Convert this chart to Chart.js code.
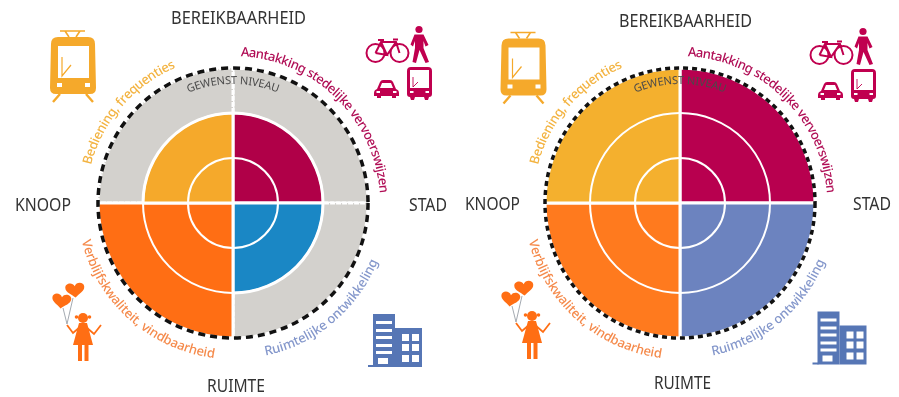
<!DOCTYPE html>
<html>
<head>
<meta charset="utf-8">
<title>Bereikbaarheid</title>
<script src="https://cdn.jsdelivr.net/npm/chart.js@4"></script>
<style>
	html, body { margin: 0; padding: 0; background: #fff; }
	canvas { position: absolute; top: 0; }
	#chartBefore { left: 0; }
	#chartAfter { left: 450px; }
</style>
</head>
<body>
<canvas id="chartBefore" width="450" height="397"></canvas>
<canvas id="chartAfter" width="449" height="397"></canvas>
<script>
// clockwise from the top
var categories   = ['Aantakking stedelijke vervoerswijzen', 'Ruimtelijke ontwikkeling', 'Verblijfskwaliteit, vindbaarheid', 'Bediening, frequenties'];
var levelsBefore = [2, 2, 3, 2];
var levelsAfter  = [3, 3, 3, 3];
var desired      = [3, 3, 3, 3];
var ticks        = [0, 1, 2, 3];

var colorsBefore = ['#B00048', '#1A87C5', '#FF6E14', '#F5A92B'];
var colorsAfter  = ['#B8004F', '#6C83BF', '#FF7A1E', '#F4B02E'];
var greyColor    = '#D3D1CD';
var labelColors  = ['#B00D55', '#8497CB', '#F58A4B', '#F3B340'];

var FONT = '"Noto Sans"';
var CRIMSON = '#C0004F', AMBER = '#F5A92B', ORANGE = '#FF6E14', BLUE = '#5676B5';

function curvedTop(ctx, text, cx, cy, r, from, to, font, color){
	ctx.save();
	ctx.font = font;
	ctx.fillStyle = color;
	ctx.textAlign = 'left';
	ctx.textBaseline = 'alphabetic';
	var total = ctx.measureText(text).width;
	var scale = (to - from) * Math.PI / 180 * r / total;
	for(var i = 0; i < text.length; i++){
		var a = (from * Math.PI / 180) + ctx.measureText(text.slice(0, i)).width * scale / r;
		ctx.save();
		ctx.translate(cx + r * Math.sin(a), cy - r * Math.cos(a));
		ctx.rotate(a);
		ctx.fillText(text[i], 0, 0);
		ctx.restore();
	}
	ctx.restore();
}

function curvedBottom(ctx, text, cx, cy, r, from, to, font, color){
	ctx.save();
	ctx.font = font;
	ctx.fillStyle = color;
	ctx.textAlign = 'left';
	ctx.textBaseline = 'alphabetic';
	var total = ctx.measureText(text).width;
	var scale = (to - from) * Math.PI / 180 * r / total;
	for(var i = 0; i < text.length; i++){
		var a = (from * Math.PI / 180) + ctx.measureText(text.slice(0, i)).width * scale / r;
		ctx.save();
		ctx.translate(cx + r * Math.sin(a), cy + r * Math.cos(a));
		ctx.rotate(-a);
		ctx.fillText(text[i], 0, 0);
		ctx.restore();
	}
	ctx.restore();
}

function straight(ctx, text, x, baseline, width){
	ctx.save();
	ctx.font = '18px ' + FONT;
	ctx.fillStyle = '#333';
	ctx.textAlign = 'left';
	ctx.textBaseline = 'alphabetic';
	ctx.fillText(text, x, baseline, width);
	ctx.restore();
}

function drawTram(ctx){
	ctx.fillStyle = AMBER;
	ctx.strokeStyle = AMBER;
	ctx.lineWidth = 1.6;
	ctx.beginPath();
	ctx.moveTo(60, 31); ctx.lineTo(85, 31);
	ctx.moveTo(65, 31); ctx.lineTo(69, 37);
	ctx.moveTo(80, 31); ctx.lineTo(76, 37);
	ctx.stroke();
	ctx.fill(new Path2D('M58 37 L88 37 Q95 37 95 44 L96 88 Q96 94 90 94 L56 94 Q50 94 50 88 L51 44 Q51 37 58 37 Z'));
	ctx.lineWidth = 2.4;
	ctx.beginPath();
	ctx.moveTo(60, 94); ctx.lineTo(53, 102);
	ctx.moveTo(86, 94); ctx.lineTo(93, 102);
	ctx.stroke();
	ctx.fillStyle = '#fff';
	ctx.fillRect(58, 46, 31, 32);
	ctx.fillRect(57, 83, 5, 4);
	ctx.fillRect(85, 83, 5, 4);
	ctx.lineWidth = 1.2;
	ctx.beginPath();
	ctx.moveTo(62, 57); ctx.lineTo(62, 76); ctx.lineTo(71, 65);
	ctx.stroke();
}

function drawTransport(ctx){
	ctx.strokeStyle = CRIMSON;
	ctx.fillStyle = CRIMSON;
	ctx.lineWidth = 2;
	// fiets
	ctx.beginPath();
	ctx.arc(375.5, 53, 9, 0, Math.PI * 2);
	ctx.moveTo(408.5, 53);
	ctx.arc(399.5, 53, 9, 0, Math.PI * 2);
	ctx.moveTo(375.5, 53); ctx.lineTo(381, 42); ctx.lineTo(396, 42); ctx.lineTo(399.5, 53);
	ctx.moveTo(381, 42); ctx.lineTo(387, 55); ctx.lineTo(375.5, 53);
	ctx.moveTo(387, 55); ctx.lineTo(396, 42);
	ctx.moveTo(378, 40); ctx.lineTo(384, 40);
	ctx.moveTo(393, 39.5); ctx.lineTo(398, 39.5);
	ctx.stroke();
	// voetganger
	ctx.beginPath();
	ctx.arc(419, 29.5, 3.6, 0, Math.PI * 2);
	ctx.fill();
	ctx.fill(new Path2D('M414.5 34.5 L423.5 34.5 L428.5 45 L425.5 46.5 L423.5 41 L423.5 48 L429 62 L425.5 63 L419.5 50 L416 63 L412.5 62 L415 48 L415 41 L413 46.5 L410.5 44.5 Z'));
	// auto
	ctx.fill(new Path2D('M377 89 L380 82 Q381 80 383 80 L390 80 Q392 80 393 82 L396 89 Q399 90 399 93 L399 96 L396 96 L396 98 L392 98 L392 96 L381 96 L381 98 L377 98 L377 96 L374 96 L374 93 Q374 90 377 89 Z'));
	ctx.fillStyle = '#fff';
	ctx.fill(new Path2D('M380 88 L382 83 L391 83 L393 88 Z'));
	ctx.fillRect(376.5, 91, 3.5, 2);
	ctx.fillRect(393, 91, 3.5, 2);
	// bus
	ctx.fillStyle = CRIMSON;
	ctx.fill(new Path2D('M411 67 L428 67 Q432 67 432 71 L432 94 Q432 97 429 97 L428 100 L425 100 L424 97 L415 97 L414 100 L411 100 L410 97 Q407 97 407 94 L407 71 Q407 67 411 67 Z'));
	ctx.fillStyle = '#fff';
	ctx.fillRect(410, 70, 19, 18);
	ctx.fillRect(410, 91, 3.5, 2);
	ctx.fillRect(425.5, 91, 3.5, 2);
	ctx.lineWidth = 0.9;
	ctx.beginPath();
	ctx.moveTo(413, 77); ctx.lineTo(413, 87); ctx.lineTo(418, 82);
	ctx.stroke();
}

function heart(ctx, x, y, s, rot){
	ctx.save();
	ctx.translate(x, y);
	ctx.rotate(rot);
	ctx.scale(s, s);
	ctx.fill(new Path2D('M0 8 C-4 4 -10 2 -10 -3 C-10 -8 -2 -9 0 -4 C2 -9 10 -8 10 -3 C10 2 4 4 0 8 Z'));
	ctx.restore();
}

function drawGirl(ctx){
	ctx.strokeStyle = '#9AA0A8';
	ctx.lineWidth = 0.9;
	ctx.beginPath();
	ctx.moveTo(63, 308); ctx.lineTo(67, 324);
	ctx.moveTo(73, 298); ctx.lineTo(67, 324);
	ctx.stroke();
	ctx.fillStyle = ORANGE;
	heart(ctx, 61.5, 301, 0.95, 0.12);
	heart(ctx, 75, 290, 0.95, -0.08);
	ctx.beginPath();
	ctx.arc(83, 318, 5, 0, Math.PI * 2);
	ctx.fill();
	ctx.beginPath();
	ctx.arc(76.5, 317, 1.8, 0, Math.PI * 2);
	ctx.arc(89.5, 317, 1.8, 0, Math.PI * 2);
	ctx.fill();
	ctx.fill(new Path2D('M79 323 L87 323 L93 345 L73 345 Z'));
	ctx.fillRect(78, 345, 4, 16);
	ctx.fillRect(84.5, 345, 4, 16);
	ctx.strokeStyle = ORANGE;
	ctx.lineWidth = 1.8;
	ctx.beginPath();
	ctx.moveTo(80, 327); ctx.lineTo(73, 333); ctx.lineTo(67, 325);
	ctx.moveTo(86, 327); ctx.lineTo(94, 334); ctx.lineTo(101, 325);
	ctx.stroke();
}

function drawBuilding(ctx){
	ctx.fillStyle = BLUE;
	ctx.fillRect(373, 314, 22, 53);
	ctx.fillRect(395, 328, 27, 39);
	ctx.fillRect(368, 365, 6, 2);
	ctx.fillStyle = '#fff';
	[321, 329, 336, 344, 351].forEach(function(y){
		ctx.fillRect(376, y, 16, 3);
	});
	ctx.fillRect(378, 358, 10, 6);
	[334, 344, 355].forEach(function(y){
		ctx.fillRect(402, y, 7, 7);
		ctx.fillRect(412, y, 7, 7);
	});
}

function drawIcon(ctx, dx, dy, fn){
	ctx.save();
	ctx.translate(dx, dy);
	fn(ctx);
	ctx.restore();
}

function makePlugin(layout){
	return {
		id: 'decor',
		afterDraw: function(chart){
			var ctx = chart.ctx;
			var r = chart.scales.r;
			var cx = r.xCenter, cy = r.yCenter;
			var outer = r.getDistanceFromCenterForValue(3);
			var small = '500 13px ' + FONT;

			curvedTop(ctx, categories[0], cx, cy, outer + 12, 3, 86, small, labelColors[0]);
			curvedTop(ctx, categories[3], cx, cy, outer + 12, -75, -23, small, labelColors[3]);
			curvedBottom(ctx, categories[2], cx, cy, outer + 21, -76, -7, small, labelColors[2]);
			curvedBottom(ctx, categories[1], cx, cy, outer + 21, 12, 68, small, labelColors[1]);
			curvedTop(ctx, 'GEWENST NIVEAU', cx, cy, outer - 16, -22, 22, '11px ' + FONT, '#4a4a4a');

			layout.titles.forEach(function(t){
				straight(ctx, t[0], t[1], t[2], t[3]);
			});

			drawIcon(ctx, layout.tram[0], layout.tram[1], drawTram);
			drawIcon(ctx, layout.transport[0], layout.transport[1], drawTransport);
			drawIcon(ctx, layout.girl[0], layout.girl[1], drawGirl);
			drawIcon(ctx, layout.building[0], layout.building[1], drawBuilding);
		}
	};
}

function makeChart(id, levels, colors, padding, layout){
	return new Chart(document.getElementById(id).getContext('2d'), {
		type: 'polarArea',
		data: {
			labels: categories,
			datasets: [
				{ label: 'Niveau', data: levels, backgroundColor: colors, borderColor: '#fff', borderWidth: 3 },
				{ label: 'Gewenst niveau', data: desired, backgroundColor: greyColor, borderColor: '#fff', borderWidth: 3, borderDash: [5, 1] }
			]
		},
		options: {
			responsive: false,
			animation: false,
			layout: { padding: padding },
			plugins: { legend: { display: false }, tooltip: { enabled: false } },
			scales: {
				r: {
					min: ticks[0],
					max: ticks[ticks.length - 1],
					ticks: { display: false, stepSize: 1 },
					grid: {
						z: 1,
						circular: true,
						color: function(c){ return c.index === ticks.length - 1 ? '#111' : '#fff'; },
						lineWidth: function(c){ return c.index === ticks.length - 1 ? 3.5 : 2; }
					},
					border: {
						dash: function(c){ return c.index === ticks.length - 1 ? layout.dash : []; }
					}
				}
			}
		},
		plugins: [makePlugin(layout)]
	});
}

makeChart('chartBefore', levelsBefore, colorsBefore, { left: 98, right: 82, top: 68, bottom: 59 }, {
	dash: [7, 5],
	titles: [['BEREIKBAARHEID', 171, 24, 135], ['KNOOP', 15, 211, 56], ['STAD', 409, 211, 38], ['RUIMTE', 207, 392, 58]],
	tram: [0, 0], transport: [0, 0], girl: [0, 0], building: [0, 0]
});

makeChart('chartAfter', levelsAfter, colorsAfter, { left: 95, right: 84, top: 68, bottom: 59 }, {
	dash: [5, 4],
	titles: [['BEREIKBAARHEID', 169, 27, 133], ['KNOOP', 15, 210, 55], ['STAD', 403, 210, 38], ['RUIMTE', 204, 389, 57]],
	tram: [0.5, 1.5], transport: [-6, 2], girl: [-1, -2], building: [-5.5, -2.5]
});
</script>
</body>
</html>
